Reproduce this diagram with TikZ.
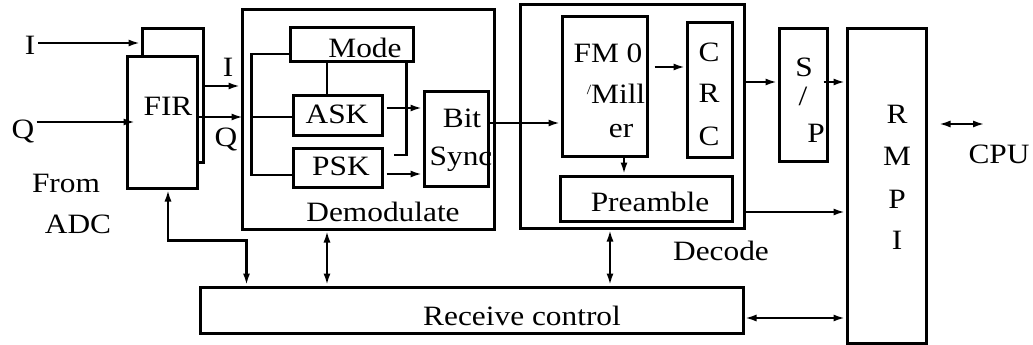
\documentclass[tikz,border=0pt]{standalone}
\usepackage{fontspec}
\setmainfont{Liberation Serif}[FakeStretch=1.12]
\usetikzlibrary{arrows.meta,calc}

\begin{document}
\begin{tikzpicture}[x=1pt, y=-1pt, font=\fontsize{28}{32}\selectfont,
  blk/.style={draw, line width=3pt, inner sep=0pt, fill=white},
  txt/.style={inner sep=0pt, anchor=base},
  wire/.style={line width=2.5pt},
  flow/.style={-{Latex[length=12pt,width=7pt]}, line width=2.5pt},
  both/.style={{Latex[length=12pt,width=7pt]}-{Latex[length=12pt,width=7pt]}, line width=2.5pt}]
  \useasboundingbox (0,0) rectangle (1033,345);
  % blocks
  \node[blk, minimum width=61pt, minimum height=133pt] (firback) at (172.5,95.5) {};
  \node[blk, minimum width=70pt, minimum height=131pt] (fir) at (162,122.5) {};
  \node[blk, minimum width=252pt, minimum height=219pt] (demod) at (368,119.5) {};
  \node[blk, minimum width=123pt, minimum height=34pt] (mode) at (351.5,45) {};
  \node[blk, minimum width=89pt, minimum height=40pt] (ask) at (337.5,115) {};
  \node[blk, minimum width=89pt, minimum height=39pt] (psk) at (337.5,167.5) {};
  \node[blk, minimum width=64pt, minimum height=95pt] (bitsync) at (456,138.5) {};
  \node[blk, minimum width=224pt, minimum height=223pt] (decode) at (632,116.5) {};
  \node[blk, minimum width=85pt, minimum height=139pt] (fm) at (604.5,86.5) {};
  \node[blk, minimum width=45pt, minimum height=134pt] (crc) at (709.5,90) {};
  \node[blk, minimum width=172pt, minimum height=45pt] (preamble) at (646,198.5) {};
  \node[blk, minimum width=48pt, minimum height=132pt] (sp) at (803,95) {};
  \node[blk, minimum width=79pt, minimum height=314pt] (rmpi) at (886.5,186) {};
  \node[blk, minimum width=543pt, minimum height=46pt] (rc) at (471.5,310) {};
  % texts
  \node[txt] (Iin) at (30,55) {I};
  \node[txt] (Qin) at (23,138) {Q};
  \node[txt] (from) at (66,192) {From};
  \node[txt] (adc) at (78,233) {ADC};
  \node[txt] (firtext) at (168,115) {FIR};
  \node[txt] (Iout) at (228,77) {I};
  \node[txt] (Qout) at (226,146) {Q};
  \node[txt] (modetext) at (365,58) {Mode};
  \node[txt] (asktext) at (337,123) {ASK};
  \node[txt] (psktext) at (341,175) {PSK};
  \node[txt] (bittext) at (462,127) {Bit};
  \node[txt] (synctext) at (461,165) {Sync};
  \node[txt] (demodtext) at (383,221) {Demodulate};
  \node[txt] (fmtext) at (608,63) {FM 0};
  \node[txt] (milltext) at (616,103) {{\fontsize{14}{14}\selectfont\raisebox{9pt}{/}}Mill};
  \node[txt] (ertext) at (621,137) {er};
  \node[txt] (crcC) at (709,62) {C};
  \node[txt] (crcR) at (709,102) {R};
  \node[txt] (crcCC) at (709,145) {C};
  \node[txt] (spS) at (804,77) {S};
  \node[txt] (spslash) at (803,105) {/};
  \node[txt] (spP) at (816,142) {P};
  \node[txt] (preambletext) at (650,211) {Preamble};
  \node[txt] (decodetext) at (721,260) {Decode};
  \node[txt] (rmpiR) at (897,123) {R};
  \node[txt] (rmpiM) at (897,165) {M};
  \node[txt] (rmpiP) at (897,208) {P};
  \node[txt] (rmpiI) at (897,249) {I};
  \node[txt] (cpu) at (999,163) {CPU};
  \node[txt] (rctext) at (522,325) {Receive control};
  \coordinate (cpuend) at (985,124);
  % connectors
  \draw[flow] ([xshift=3pt,yshift=12pt]Iin.base east) -- ([yshift=12pt]Iin.base east -| firback.west);
  \draw[flow] ([xshift=2pt,yshift=16pt]Qin.base east) -- ([xshift=10pt,yshift=16pt]Qin.base east -| fir.west);
  \draw[flow] ([yshift=9.5pt]firback.east) -- ([yshift=9.5pt]firback.east -| demod.west);
  \draw[flow] ([yshift=5.5pt]fir.east) -- ([xshift=3pt,yshift=5.5pt]fir.east -| demod.west);
  \draw[wire] ([yshift=-9pt]mode.west) -| ([xshift=-40pt,yshift=-7.5pt]psk.west) -- ([yshift=-7.5pt]psk.west);
  \draw[wire] ([xshift=-40pt,yshift=-2pt]ask.west) -- ([yshift=-2pt]ask.west);
  \draw[wire] ([xshift=-10.5pt]ask.north) -- ([xshift=-10.5pt]ask.north |- mode.south);
  \draw[wire] ([xshift=-8pt]mode.south east) |- ([xshift=10pt,yshift=12.5pt]psk.east);
  \draw[flow] ([xshift=3pt,yshift=7pt]ask.east) -- ([yshift=7pt]ask.east -| bitsync.west);
  \draw[flow] ([xshift=3pt,yshift=-6.5pt]psk.east) -- ([yshift=-6.5pt]psk.east -| bitsync.west);
  \draw[flow] ([yshift=15.5pt]bitsync.east) -- ([yshift=15.5pt]bitsync.east -| fm.west);
  \draw[flow] ([xshift=6pt,yshift=19.5pt]fm.east) -- ([yshift=19.5pt]fm.east -| crc.west);
  \draw[flow] ([xshift=19.5pt]fm.south) -- ([xshift=19.5pt]fm.south |- preamble.north);
  \draw[flow] ([yshift=34.5pt]decode.east) -- ([yshift=34.5pt]decode.east -| sp.west);
  \draw[flow] ([xshift=-5pt,yshift=13pt]sp.east) -- ([yshift=13pt]sp.east -| rmpi.west);
  \draw[flow] ([yshift=-95.5pt]decode.east) -- ([yshift=-95.5pt]decode.east -| rmpi.west);
  \draw[both] ([yshift=-8pt]rc.east) -- ([yshift=-8pt]rc.east -| rmpi.west);
  \draw[both] ([xshift=-41pt]demod.south) -- ([xshift=-41pt]demod.south |- rc.north);
  \draw[both] ([xshift=-22pt]decode.south) -- ([xshift=-22pt]decode.south |- rc.north);
  \draw[both] ([xshift=6pt]fir.south) -- ++(0,51) -| ([xshift=48pt]rc.north west);
  \draw[both] ([xshift=11pt]rmpi.east |- cpuend) -- (cpuend);
\end{tikzpicture}
\end{document}
